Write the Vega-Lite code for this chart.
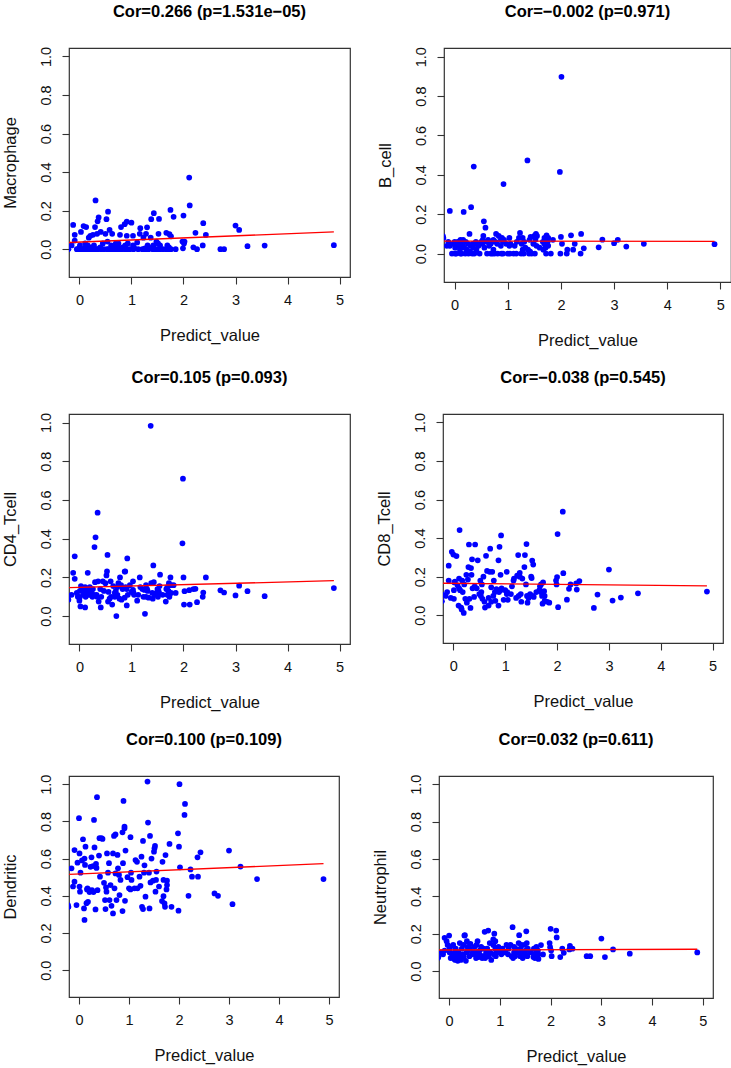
{
  "$schema": "https://vega.github.io/schema/vega-lite/v6.json",
  "padding": {"left": 1, "top": 3, "right": 0, "bottom": 0},
  "background": "white",
  "config": {
    "font": "Liberation Sans",
    "view": {"stroke": "#333333", "strokeWidth": 1.2},
    "axis": {"domain": false, "grid": false, "tickColor": "#333333", "tickSize": 7, "tickWidth": 1.1, "labelFontSize": 14.5, "labelColor": "#111111", "titleFontSize": 16.5, "titleFontWeight": "normal", "titleColor": "#111111", "labelOverlap": false, "labelFlush": false},
    "axisX": {"labelBaseline": "alphabetic", "labelPadding": 20, "titleBaseline": "alphabetic", "titleY": 63},
    "axisY": {"format": ".1f", "labelAngle": 270, "labelAlign": "center", "labelBaseline": "alphabetic", "labelPadding": 12, "titleAngle": 270, "titleBaseline": "alphabetic", "titleX": -54},
    "title": {"fontSize": 16.5, "fontWeight": "bold", "color": "#000000", "baseline": "alphabetic", "offset": 26, "frame": "group", "anchor": "middle"}
  },
  "datasets": {
    "samples": [
      {"x": -0.22, "mac": 0, "bcell": 0.09, "cd4": 0.1, "cd8": 0.073, "dend": 0.35, "neut": 0.07},
      {"x": -0.21, "mac": 0, "bcell": 0.08, "cd4": 0.085, "cd8": 0.107, "dend": 0.34, "neut": 0.075},
      {"x": -0.15, "mac": 0.02, "bcell": 0.04, "cd4": 0.11, "cd8": 0.1, "dend": 0.548, "neut": 0.1},
      {"x": -0.12, "mac": 0.126, "bcell": 0.06, "cd4": 0.224, "cd8": 0.12, "dend": 0.45, "neut": 0.09},
      {"x": -0.09, "mac": 0.075, "bcell": 0.217, "cd4": 0.309, "cd8": 0.257, "dend": 0.646, "neut": 0.178},
      {"x": -0.09, "mac": 0.045, "bcell": 0.04, "cd4": 0.193, "cd8": 0.18, "dend": 0.476, "neut": 0.11},
      {"x": -0.05, "mac": 0, "bcell": 0, "cd4": 0.12, "cd8": 0.09, "dend": 0.35, "neut": 0.16},
      {"x": -0.03, "mac": 0, "bcell": 0.05, "cd4": 0.1, "cd8": 0.329, "dend": 0.578, "neut": 0.14},
      {"x": 0, "mac": 0, "bcell": 0.06, "cd4": 0.08, "cd8": 0.315, "dend": 0.817, "neut": 0.19},
      {"x": 0.01, "mac": 0.01, "bcell": 0, "cd4": 0.13, "cd8": 0.085, "dend": 0.628, "neut": 0.12},
      {"x": 0.01, "mac": 0.02, "bcell": 0.03, "cd4": 0.1, "cd8": 0.13, "dend": 0.45, "neut": 0.1},
      {"x": 0.02, "mac": 0, "bcell": 0.05, "cd4": 0.05, "cd8": 0.17, "dend": 0.422, "neut": 0.13},
      {"x": 0.03, "mac": 0.09, "bcell": 0, "cd4": 0.155, "cd8": 0.175, "dend": 0.524, "neut": 0.07},
      {"x": 0.06, "mac": 0, "bcell": 0.06, "cd4": 0.14, "cd8": 0.307, "dend": 0.59, "neut": 0.085},
      {"x": 0.08, "mac": 0.12, "bcell": 0.04, "cd4": 0.11, "cd8": 0.155, "dend": 0.704, "neut": 0.14},
      {"x": 0.1, "mac": 0, "bcell": 0.02, "cd4": 0.12, "cd8": 0.05, "dend": 0.332, "neut": 0.065},
      {"x": 0.11, "mac": 0.03, "bcell": 0, "cd4": 0.045, "cd8": 0.14, "dend": 0.27, "neut": 0.1},
      {"x": 0.11, "mac": 0, "bcell": 0.07, "cd4": 0.15, "cd8": 0.19, "dend": 0.6, "neut": 0.09},
      {"x": 0.12, "mac": 0.01, "bcell": 0.05, "cd4": 0.1, "cd8": 0.442, "dend": 0.566, "neut": 0.06},
      {"x": 0.13, "mac": 0.115, "bcell": 0, "cd4": 0.13, "cd8": 0.13, "dend": 0.664, "neut": 0.12},
      {"x": 0.15, "mac": 0, "bcell": 0.04, "cd4": 0.14, "cd8": 0.04, "dend": 0.36, "neut": 0.1},
      {"x": 0.16, "mac": 0.02, "bcell": 0.07, "cd4": 0.224, "cd8": 0.03, "dend": 0.434, "neut": 0.08},
      {"x": 0.17, "mac": 0, "bcell": 0.212, "cd4": 0.11, "cd8": 0.18, "dend": 0.44, "neut": 0.055},
      {"x": 0.18, "mac": 0.06, "bcell": 0.03, "cd4": 0.12, "cd8": 0.12, "dend": 0.368, "neut": 0.1},
      {"x": 0.2, "mac": 0, "bcell": 0, "cd4": 0.15, "cd8": 0.012, "dend": 0.43, "neut": 0.07},
      {"x": 0.21, "mac": 0.07, "bcell": 0.06, "cd4": 0.11, "cd8": 0.16, "dend": 0.42, "neut": 0.15},
      {"x": 0.23, "mac": 0.01, "bcell": 0.02, "cd4": 0.13, "cd8": 0.085, "dend": 0.556, "neut": 0.06},
      {"x": 0.25, "mac": 0, "bcell": 0.05, "cd4": 0.1, "cd8": 0.21, "dend": 0.607, "neut": 0.12},
      {"x": 0.26, "mac": 0.075, "bcell": 0, "cd4": 0.14, "cd8": 0.065, "dend": 0.43, "neut": 0.09},
      {"x": 0.28, "mac": 0.02, "bcell": 0.1, "cd4": 0.11, "cd8": 0.185, "dend": 0.56, "neut": 0.14},
      {"x": 0.29, "mac": 0, "bcell": 0.01, "cd4": 0.357, "cd8": 0.25, "dend": 0.42, "neut": 0.075},
      {"x": 0.3, "mac": 0.115, "bcell": 0.04, "cd4": 0.175, "cd8": 0.367, "dend": 0.808, "neut": 0.19},
      {"x": 0.31, "mac": 0.253, "bcell": 0.236, "cd4": 0.407, "cd8": 0.085, "dend": 0.66, "neut": 0.192},
      {"x": 0.33, "mac": 0, "bcell": 0, "cd4": 0.11, "cd8": 0.038, "dend": 0.327, "neut": 0.055},
      {"x": 0.34, "mac": 0.08, "bcell": 0.05, "cd4": 0.1, "cd8": 0.245, "dend": 0.571, "neut": 0.1},
      {"x": 0.35, "mac": 0.145, "bcell": 0.03, "cd4": 0.534, "cd8": 0.21, "dend": 0.55, "neut": 0.16},
      {"x": 0.36, "mac": 0, "bcell": 0.442, "cd4": 0.18, "cd8": 0.29, "dend": 0.93, "neut": 0.13},
      {"x": 0.37, "mac": 0.165, "bcell": 0, "cd4": 0.075, "cd8": 0.14, "dend": 0.43, "neut": 0.11},
      {"x": 0.4, "mac": 0.01, "bcell": 0.06, "cd4": 0.14, "cd8": 0.095, "dend": 0.616, "neut": 0.08},
      {"x": 0.41, "mac": 0.09, "bcell": 0.02, "cd4": 0.045, "cd8": 0.15, "dend": 0.71, "neut": 0.12},
      {"x": 0.42, "mac": 0, "bcell": 0.05, "cd4": 0.1, "cd8": 0.367, "dend": 0.503, "neut": 0.145},
      {"x": 0.45, "mac": 0.03, "bcell": 0.04, "cd4": 0.18, "cd8": 0.14, "dend": 0.71, "neut": 0.09},
      {"x": 0.47, "mac": 0, "bcell": 0, "cd4": 0.13, "cd8": 0.285, "dend": 0.706, "neut": 0.1},
      {"x": 0.5, "mac": 0.08, "bcell": 0.06, "cd4": 0.17, "cd8": 0.11, "dend": 0.47, "neut": 0.13},
      {"x": 0.52, "mac": 0.156, "bcell": 0.05, "cd4": 0.21, "cd8": 0.18, "dend": 0.377, "neut": 0.09},
      {"x": 0.53, "mac": 0, "bcell": 0.07, "cd4": 0.231, "cd8": 0.1, "dend": 0.329, "neut": 0.07},
      {"x": 0.54, "mac": 0.04, "bcell": 0.09, "cd4": 0.316, "cd8": 0.12, "dend": 0.445, "neut": 0.14},
      {"x": 0.55, "mac": 0.195, "bcell": 0.164, "cd4": 0.075, "cd8": 0.16, "dend": 0.422, "neut": 0.1},
      {"x": 0.56, "mac": 0, "bcell": 0.03, "cd4": 0.125, "cd8": 0.085, "dend": 0.628, "neut": 0.16},
      {"x": 0.58, "mac": 0.1, "bcell": 0.132, "cd4": 0.09, "cd8": 0.2, "dend": 0.524, "neut": 0.075},
      {"x": 0.6, "mac": 0, "bcell": 0.06, "cd4": 0.18, "cd8": 0.07, "dend": 0.575, "neut": 0.11},
      {"x": 0.61, "mac": 0.02, "bcell": 0, "cd4": 0.1, "cd8": 0.04, "dend": 0.377, "neut": 0.085},
      {"x": 0.63, "mac": 0.08, "bcell": 0.07, "cd4": 0.06, "cd8": 0.308, "dend": 0.458, "neut": 0.13},
      {"x": 0.65, "mac": 0, "bcell": 0.04, "cd4": 0.155, "cd8": 0.23, "dend": 0.346, "neut": 0.07},
      {"x": 0.68, "mac": 0.01, "bcell": 0, "cd4": 0.1, "cd8": 0.09, "dend": 0.628, "neut": 0.12},
      {"x": 0.68, "mac": 0, "bcell": 0.05, "cd4": 0.12, "cd8": 0.05, "dend": 0.305, "neut": 0.08},
      {"x": 0.7, "mac": 0.03, "bcell": 0.06, "cd4": 0.13, "cd8": 0.225, "dend": 0.722, "neut": 0.21},
      {"x": 0.71, "mac": 0, "bcell": 0, "cd4": 0, "cd8": 0.345, "dend": 0.44, "neut": 0.07},
      {"x": 0.73, "mac": 0.02, "bcell": 0.02, "cd4": 0.11, "cd8": 0.145, "dend": 0.52, "neut": 0.1},
      {"x": 0.73, "mac": 0, "bcell": 0.07, "cd4": 0.15, "cd8": 0.07, "dend": 0.73, "neut": 0.09},
      {"x": 0.75, "mac": 0.03, "bcell": 0, "cd4": 0.17, "cd8": 0.225, "dend": 0.377, "neut": 0.12},
      {"x": 0.77, "mac": 0, "bcell": 0.06, "cd4": 0.09, "cd8": 0.1, "dend": 0.62, "neut": 0.217},
      {"x": 0.78, "mac": 0.075, "bcell": 0.1, "cd4": 0.2, "cd8": 0.18, "dend": 0.548, "neut": 0.08},
      {"x": 0.8, "mac": 0.115, "bcell": 0.05, "cd4": 0.16, "cd8": 0.12, "dend": 0.512, "neut": 0.15},
      {"x": 0.81, "mac": 0, "bcell": 0, "cd4": 0.085, "cd8": 0.075, "dend": 0.404, "neut": 0.1},
      {"x": 0.83, "mac": 0.01, "bcell": 0.09, "cd4": 0.14, "cd8": 0.135, "dend": 0.485, "neut": 0.06},
      {"x": 0.87, "mac": 0.13, "bcell": 0.04, "cd4": 0.095, "cd8": 0.05, "dend": 0.741, "neut": 0.14},
      {"x": 0.87, "mac": 0, "bcell": 0.07, "cd4": 0.23, "cd8": 0.285, "dend": 0.318, "neut": 0.17},
      {"x": 0.88, "mac": 0.02, "bcell": 0, "cd4": 0.231, "cd8": 0.12, "dend": 0.575, "neut": 0.09},
      {"x": 0.89, "mac": 0, "bcell": 0.08, "cd4": 0.15, "cd8": 0.355, "dend": 0.91, "neut": 0.2},
      {"x": 0.91, "mac": 0.143, "bcell": 0.06, "cd4": 0.055, "cd8": 0.21, "dend": 0.772, "neut": 0.12},
      {"x": 0.91, "mac": 0.07, "bcell": 0, "cd4": 0.14, "cd8": 0.13, "dend": 0.763, "neut": 0.16},
      {"x": 0.92, "mac": 0, "bcell": 0.353, "cd4": 0.298, "cd8": 0.414, "dend": 0.373, "neut": 0.08},
      {"x": 0.93, "mac": 0.03, "bcell": 0.07, "cd4": 0.11, "cd8": 0.14, "dend": 0.643, "neut": 0.1},
      {"x": 0.97, "mac": 0, "bcell": 0.05, "cd4": 0.16, "cd8": 0.08, "dend": 0.5, "neut": 0.13},
      {"x": 1.0, "mac": 0.138, "bcell": 0, "cd4": 0.125, "cd8": 0.13, "dend": 0.44, "neut": 0.1},
      {"x": 1.03, "mac": 0.02, "bcell": 0.04, "cd4": 0.18, "cd8": 0.225, "dend": 0.434, "neut": 0.11},
      {"x": 1.03, "mac": 0.07, "bcell": 0.08, "cd4": 0.135, "cd8": 0.11, "dend": 0.715, "neut": 0.09},
      {"x": 1.04, "mac": 0, "bcell": 0, "cd4": 0.12, "cd8": 0.12, "dend": 0.524, "neut": 0.1},
      {"x": 1.05, "mac": 0.01, "bcell": 0.05, "cd4": 0.11, "cd8": 0.08, "dend": 0.485, "neut": 0.12},
      {"x": 1.11, "mac": 0.035, "bcell": 0, "cd4": 0.08, "cd8": 0.11, "dend": 0.44, "neut": 0.1},
      {"x": 1.13, "mac": 0, "bcell": 0.04, "cd4": 0.11, "cd8": 0.15, "dend": 0.592, "neut": 0.14},
      {"x": 1.16, "mac": 0.08, "bcell": 0, "cd4": 0.2, "cd8": 0.18, "dend": 0.583, "neut": 0.09},
      {"x": 1.17, "mac": 0.109, "bcell": 0.06, "cd4": 0.15, "cd8": 0.19, "dend": 0.44, "neut": 0.12},
      {"x": 1.21, "mac": 0, "bcell": 0.08, "cd4": 0.14, "cd8": 0.09, "dend": 0.503, "neut": 0.14},
      {"x": 1.23, "mac": 0.06, "bcell": 0.105, "cd4": 0.1, "cd8": 0.205, "dend": 0.454, "neut": 0.08},
      {"x": 1.25, "mac": 0, "bcell": 0, "cd4": 0.135, "cd8": 0.312, "dend": 0.61, "neut": 0.235},
      {"x": 1.26, "mac": 0.005, "bcell": 0.05, "cd4": 0.012, "cd8": 0.1, "dend": 0.341, "neut": 0.07},
      {"x": 1.28, "mac": 0.08, "bcell": 0.02, "cd4": 0.16, "cd8": 0.2, "dend": 0.329, "neut": 0.1},
      {"x": 1.28, "mac": 0, "bcell": 0.08, "cd4": 0.1, "cd8": 0.22, "dend": 0.695, "neut": 0.13},
      {"x": 1.3, "mac": 0.114, "bcell": 0, "cd4": 0.14, "cd8": 0.11, "dend": 0.524, "neut": 0.08},
      {"x": 1.31, "mac": 0.02, "bcell": 0.06, "cd4": 0.13, "cd8": 0.07, "dend": 0.564, "neut": 0.12},
      {"x": 1.33, "mac": 0, "bcell": 0.03, "cd4": 0.095, "cd8": 0.19, "dend": 0.395, "neut": 0.1},
      {"x": 1.37, "mac": 0.06, "bcell": 0.473, "cd4": 0.983, "cd8": 0.25, "dend": 1.014, "neut": 0.15},
      {"x": 1.38, "mac": 0.156, "bcell": 0.02, "cd4": 0.17, "cd8": 0.312, "dend": 0.794, "neut": 0.192},
      {"x": 1.4, "mac": 0.01, "bcell": 0, "cd4": 0.12, "cd8": 0.16, "dend": 0.524, "neut": 0.08},
      {"x": 1.41, "mac": 0, "bcell": 0.07, "cd4": 0.09, "cd8": 0.369, "dend": 0.332, "neut": 0.12},
      {"x": 1.42, "mac": 0.02, "bcell": 0.01, "cd4": 0.262, "cd8": 0.1, "dend": 0.722, "neut": 0.14},
      {"x": 1.43, "mac": 0.187, "bcell": 0.085, "cd4": 0.175, "cd8": 0.065, "dend": 0.472, "neut": 0.1},
      {"x": 1.45, "mac": 0, "bcell": 0, "cd4": 0.11, "cd8": 0.09, "dend": 0.6, "neut": 0.07},
      {"x": 1.48, "mac": 0.04, "bcell": 0.05, "cd4": 0.12, "cd8": 0.11, "dend": 0.481, "neut": 0.14},
      {"x": 1.5, "mac": 0, "bcell": 0.09, "cd4": 0.14, "cd8": 0.2, "dend": 0.637, "neut": 0.09},
      {"x": 1.51, "mac": 0.03, "bcell": 0, "cd4": 0.1, "cd8": 0.193, "dend": 0.655, "neut": 0.11},
      {"x": 1.52, "mac": 0.08, "bcell": 0.07, "cd4": 0.13, "cd8": 0.284, "dend": 0.668, "neut": 0.213},
      {"x": 1.53, "mac": 0.157, "bcell": 0.1, "cd4": 0.12, "cd8": 0.1, "dend": 0.422, "neut": 0.15},
      {"x": 1.54, "mac": 0, "bcell": 0.04, "cd4": 0.155, "cd8": 0.263, "dend": 0.485, "neut": 0.08},
      {"x": 1.55, "mac": 0.02, "bcell": 0.09, "cd4": 0.214, "cd8": 0.095, "dend": 0.53, "neut": 0.12},
      {"x": 1.6, "mac": 0, "bcell": 0.03, "cd4": 0.11, "cd8": 0.12, "dend": 0.45, "neut": 0.1},
      {"x": 1.66, "mac": 0, "bcell": 0.06, "cd4": 0.075, "cd8": 0.13, "dend": 0.372, "neut": 0.075},
      {"x": 1.67, "mac": 0.085, "bcell": 0.02, "cd4": 0.14, "cd8": 0.15, "dend": 0.583, "neut": 0.12},
      {"x": 1.69, "mac": 0, "bcell": 0.05, "cd4": 0.11, "cd8": 0.12, "dend": 0.485, "neut": 0.09},
      {"x": 1.69, "mac": 0.02, "bcell": 0.08, "cd4": 0.15, "cd8": 0.16, "dend": 0.398, "neut": 0.07},
      {"x": 1.71, "mac": 0, "bcell": 0.03, "cd4": 0.13, "cd8": 0.1, "dend": 0.359, "neut": 0.1},
      {"x": 1.72, "mac": 0.01, "bcell": 0, "cd4": 0.17, "cd8": 0.06, "dend": 0.341, "neut": 0.13},
      {"x": 1.73, "mac": 0.078, "bcell": 0.093, "cd4": 0.1, "cd8": 0.17, "dend": 0.619, "neut": 0.08},
      {"x": 1.75, "mac": 0.204, "bcell": 0.06, "cd4": 0.2, "cd8": 0.125, "dend": 0.434, "neut": 0.11},
      {"x": 1.76, "mac": 0.067, "bcell": 0.04, "cd4": 0.16, "cd8": 0.075, "dend": 0.481, "neut": 0.09},
      {"x": 1.76, "mac": 0, "bcell": 0.08, "cd4": 0.12, "cd8": 0.1, "dend": 0.458, "neut": 0.065},
      {"x": 1.81, "mac": 0.168, "bcell": 0, "cd4": 0.16, "cd8": 0.07, "dend": 0.679, "neut": 0.139},
      {"x": 1.85, "mac": 0, "bcell": 0.07, "cd4": 0.12, "cd8": 0.065, "dend": 0.341, "neut": 0.089},
      {"x": 1.98, "mac": 0.04, "bcell": 0.415, "cd4": 0.376, "cd8": 0.18, "dend": 0.736, "neut": 0.15},
      {"x": 1.99, "mac": 0.005, "bcell": 0, "cd4": 0.71, "cd8": 0.16, "dend": 0.32, "neut": 0.128},
      {"x": 2.0, "mac": 0.175, "bcell": 0.085, "cd4": 0.2, "cd8": 0.198, "dend": 0.664, "neut": 0.226},
      {"x": 2.01, "mac": 0.03, "bcell": 0.898, "cd4": 0.06, "cd8": 0.421, "dend": 1.0, "neut": 0.11},
      {"x": 2.02, "mac": 0.04, "bcell": 0.05, "cd4": 0.129, "cd8": 0.042, "dend": 0.553, "neut": 0.08},
      {"x": 2.11, "mac": 0.372, "bcell": 0, "cd4": 0.134, "cd8": 0.537, "dend": 0.835, "neut": 0.217},
      {"x": 2.12, "mac": 0.227, "bcell": 0.02, "cd4": 0.06, "cd8": 0.218, "dend": 0.894, "neut": 0.18},
      {"x": 2.19, "mac": 0.01, "bcell": 0.093, "cd4": 0.14, "cd8": 0.081, "dend": 0.4, "neut": 0.075},
      {"x": 2.23, "mac": 0.085, "bcell": 0.02, "cd4": 0.141, "cd8": 0.137, "dend": 0.542, "neut": 0.12},
      {"x": 2.26, "mac": 0, "bcell": 0.05, "cd4": 0.072, "cd8": 0.16, "dend": 0.503, "neut": 0.098},
      {"x": 2.37, "mac": 0.02, "bcell": 0, "cd4": 0.1, "cd8": 0.165, "dend": 0.607, "neut": 0.116},
      {"x": 2.38, "mac": 0.135, "bcell": 0.1, "cd4": 0.122, "cd8": 0.133, "dend": 0.503, "neut": 0.135},
      {"x": 2.43, "mac": 0.074, "bcell": 0.027, "cd4": 0.2, "cd8": 0.177, "dend": 0.634, "neut": 0.12},
      {"x": 2.71, "mac": 0, "bcell": 0.032, "cd4": 0.133, "cd8": 0.038, "dend": 0.413, "neut": 0.08},
      {"x": 2.78, "mac": 0, "bcell": 0.071, "cd4": 0.122, "cd8": 0.107, "dend": 0.4, "neut": 0.08},
      {"x": 3.0, "mac": 0.123, "bcell": 0.053, "cd4": 0.107, "cd8": 0.237, "dend": 0.643, "neut": 0.174},
      {"x": 3.07, "mac": 0.1, "bcell": 0.07, "cd4": 0.157, "cd8": 0.076, "dend": 0.355, "neut": 0.075},
      {"x": 3.23, "mac": 0.016, "bcell": 0.036, "cd4": 0.129, "cd8": 0.092, "dend": 0.557, "neut": 0.116},
      {"x": 3.56, "mac": 0.019, "bcell": 0.05, "cd4": 0.103, "cd8": 0.114, "dend": 0.49, "neut": 0.093},
      {"x": 4.89, "mac": 0.021, "bcell": 0.048, "cd4": 0.145, "cd8": 0.123, "dend": 0.49, "neut": 0.1}
    ],
    "fits": [
      {"panel": "mac", "x": -0.2, "y": 0.035}, {"panel": "mac", "x": 4.89, "y": 0.09},
      {"panel": "bcell", "x": -0.2, "y": 0.064}, {"panel": "bcell", "x": 4.89, "y": 0.062},
      {"panel": "cd4", "x": -0.2, "y": 0.147}, {"panel": "cd4", "x": 4.89, "y": 0.183},
      {"panel": "cd8", "x": -0.2, "y": 0.166}, {"panel": "cd8", "x": 4.89, "y": 0.152},
      {"panel": "dend", "x": -0.2, "y": 0.515}, {"panel": "dend", "x": 4.89, "y": 0.573},
      {"panel": "neut", "x": -0.2, "y": 0.113}, {"panel": "neut", "x": 4.89, "y": 0.117}
    ]
  },
  "spacing": 19,
  "vconcat": [
    {
      "spacing": 94,
      "bounds": "flush",
      "hconcat": [
        {
          "width": 281, "height": 229,
          "title": {"text": "Cor=0.266 (p=1.531e−05)"},
          "layer": [
            {"data": {"name": "samples"}, "mark": {"type": "circle", "color": "#0000FF", "opacity": 1, "size": 33, "clip": true},
             "encoding": {"x": {"field": "x", "type": "quantitative", "title": "Predict_value", "axis": {"values": [0, 1, 2, 3, 4, 5]}, "scale": {"domain": [-0.2, 5.2], "nice": false, "zero": false}},
                          "y": {"field": "mac", "type": "quantitative", "title": "Macrophage", "axis": {"values": [0, 0.2, 0.4, 0.6, 0.8, 1]}, "scale": {"domain": [-0.144, 1.044], "nice": false, "zero": false}}}},
            {"data": {"name": "fits"}, "transform": [{"filter": "datum.panel == 'mac'"}], "mark": {"type": "line", "color": "#FF0000", "strokeWidth": 1.3, "clip": true},
             "encoding": {"x": {"field": "x", "type": "quantitative", "title": "Predict_value", "axis": {"values": [0, 1, 2, 3, 4, 5]}, "scale": {"domain": [-0.2, 5.2], "nice": false, "zero": false}},
                          "y": {"field": "y", "type": "quantitative", "title": "Macrophage", "axis": {"values": [0, 0.2, 0.4, 0.6, 0.8, 1]}, "scale": {"domain": [-0.144, 1.044], "nice": false, "zero": false}}}}
          ]
        },
        {
          "width": 287, "height": 234,
          "title": {"text": "Cor=−0.002 (p=0.971)"},
          "layer": [
            {"data": {"name": "samples"}, "mark": {"type": "circle", "color": "#0000FF", "opacity": 1, "size": 33, "clip": true},
             "encoding": {"x": {"field": "x", "type": "quantitative", "title": "Predict_value", "axis": {"values": [0, 1, 2, 3, 4, 5]}, "scale": {"domain": [-0.2, 5.2], "nice": false, "zero": false}},
                          "y": {"field": "bcell", "type": "quantitative", "title": "B_cell", "axis": {"values": [0, 0.2, 0.4, 0.6, 0.8, 1]}, "scale": {"domain": [-0.144, 1.044], "nice": false, "zero": false}}}},
            {"data": {"name": "fits"}, "transform": [{"filter": "datum.panel == 'bcell'"}], "mark": {"type": "line", "color": "#FF0000", "strokeWidth": 1.3, "clip": true},
             "encoding": {"x": {"field": "x", "type": "quantitative", "title": "Predict_value", "axis": {"values": [0, 1, 2, 3, 4, 5]}, "scale": {"domain": [-0.2, 5.2], "nice": false, "zero": false}},
                          "y": {"field": "y", "type": "quantitative", "title": "B_cell", "axis": {"values": [0, 0.2, 0.4, 0.6, 0.8, 1]}, "scale": {"domain": [-0.144, 1.044], "nice": false, "zero": false}}}}
          ]
        }
      ]
    },
    {
      "spacing": 93,
      "bounds": "flush",
      "hconcat": [
        {
          "width": 281, "height": 230,
          "title": {"text": "Cor=0.105 (p=0.093)"},
          "layer": [
            {"data": {"name": "samples"}, "mark": {"type": "circle", "color": "#0000FF", "opacity": 1, "size": 33, "clip": true},
             "encoding": {"x": {"field": "x", "type": "quantitative", "title": "Predict_value", "axis": {"values": [0, 1, 2, 3, 4, 5]}, "scale": {"domain": [-0.2, 5.2], "nice": false, "zero": false}},
                          "y": {"field": "cd4", "type": "quantitative", "title": "CD4_Tcell", "axis": {"values": [0, 0.2, 0.4, 0.6, 0.8, 1]}, "scale": {"domain": [-0.144, 1.044], "nice": false, "zero": false}}}},
            {"data": {"name": "fits"}, "transform": [{"filter": "datum.panel == 'cd4'"}], "mark": {"type": "line", "color": "#FF0000", "strokeWidth": 1.3, "clip": true},
             "encoding": {"x": {"field": "x", "type": "quantitative", "title": "Predict_value", "axis": {"values": [0, 1, 2, 3, 4, 5]}, "scale": {"domain": [-0.2, 5.2], "nice": false, "zero": false}},
                          "y": {"field": "y", "type": "quantitative", "title": "CD4_Tcell", "axis": {"values": [0, 0.2, 0.4, 0.6, 0.8, 1]}, "scale": {"domain": [-0.144, 1.044], "nice": false, "zero": false}}}}
          ]
        },
        {
          "width": 280, "height": 229,
          "title": {"text": "Cor=−0.038 (p=0.545)"},
          "layer": [
            {"data": {"name": "samples"}, "mark": {"type": "circle", "color": "#0000FF", "opacity": 1, "size": 33, "clip": true},
             "encoding": {"x": {"field": "x", "type": "quantitative", "title": "Predict_value", "axis": {"values": [0, 1, 2, 3, 4, 5]}, "scale": {"domain": [-0.2, 5.2], "nice": false, "zero": false}},
                          "y": {"field": "cd8", "type": "quantitative", "title": "CD8_Tcell", "axis": {"values": [0, 0.2, 0.4, 0.6, 0.8, 1]}, "scale": {"domain": [-0.144, 1.044], "nice": false, "zero": false}}}},
            {"data": {"name": "fits"}, "transform": [{"filter": "datum.panel == 'cd8'"}], "mark": {"type": "line", "color": "#FF0000", "strokeWidth": 1.3, "clip": true},
             "encoding": {"x": {"field": "x", "type": "quantitative", "title": "Predict_value", "axis": {"values": [0, 1, 2, 3, 4, 5]}, "scale": {"domain": [-0.2, 5.2], "nice": false, "zero": false}},
                          "y": {"field": "y", "type": "quantitative", "title": "CD8_Tcell", "axis": {"values": [0, 0.2, 0.4, 0.6, 0.8, 1]}, "scale": {"domain": [-0.144, 1.044], "nice": false, "zero": false}}}}
          ]
        }
      ]
    },
    {
      "spacing": 100,
      "bounds": "flush",
      "hconcat": [
        {
          "width": 270, "height": 221,
          "title": {"text": "Cor=0.100 (p=0.109)"},
          "layer": [
            {"data": {"name": "samples"}, "mark": {"type": "circle", "color": "#0000FF", "opacity": 1, "size": 33, "clip": true},
             "encoding": {"x": {"field": "x", "type": "quantitative", "title": "Predict_value", "axis": {"values": [0, 1, 2, 3, 4, 5]}, "scale": {"domain": [-0.2, 5.2], "nice": false, "zero": false}},
                          "y": {"field": "dend", "type": "quantitative", "title": "Dendritic", "axis": {"values": [0, 0.2, 0.4, 0.6, 0.8, 1]}, "scale": {"domain": [-0.144, 1.044], "nice": false, "zero": false}}}},
            {"data": {"name": "fits"}, "transform": [{"filter": "datum.panel == 'dend'"}], "mark": {"type": "line", "color": "#FF0000", "strokeWidth": 1.3, "clip": true},
             "encoding": {"x": {"field": "x", "type": "quantitative", "title": "Predict_value", "axis": {"values": [0, 1, 2, 3, 4, 5]}, "scale": {"domain": [-0.2, 5.2], "nice": false, "zero": false}},
                          "y": {"field": "y", "type": "quantitative", "title": "Dendritic", "axis": {"values": [0, 0.2, 0.4, 0.6, 0.8, 1]}, "scale": {"domain": [-0.144, 1.044], "nice": false, "zero": false}}}}
          ]
        },
        {
          "width": 274, "height": 222,
          "title": {"text": "Cor=0.032 (p=0.611)"},
          "layer": [
            {"data": {"name": "samples"}, "mark": {"type": "circle", "color": "#0000FF", "opacity": 1, "size": 33, "clip": true},
             "encoding": {"x": {"field": "x", "type": "quantitative", "title": "Predict_value", "axis": {"values": [0, 1, 2, 3, 4, 5]}, "scale": {"domain": [-0.2, 5.2], "nice": false, "zero": false}},
                          "y": {"field": "neut", "type": "quantitative", "title": "Neutrophil", "axis": {"values": [0, 0.2, 0.4, 0.6, 0.8, 1]}, "scale": {"domain": [-0.144, 1.044], "nice": false, "zero": false}}}},
            {"data": {"name": "fits"}, "transform": [{"filter": "datum.panel == 'neut'"}], "mark": {"type": "line", "color": "#FF0000", "strokeWidth": 1.3, "clip": true},
             "encoding": {"x": {"field": "x", "type": "quantitative", "title": "Predict_value", "axis": {"values": [0, 1, 2, 3, 4, 5]}, "scale": {"domain": [-0.2, 5.2], "nice": false, "zero": false}},
                          "y": {"field": "y", "type": "quantitative", "title": "Neutrophil", "axis": {"values": [0, 0.2, 0.4, 0.6, 0.8, 1]}, "scale": {"domain": [-0.144, 1.044], "nice": false, "zero": false}}}}
          ]
        }
      ]
    }
  ]
}
